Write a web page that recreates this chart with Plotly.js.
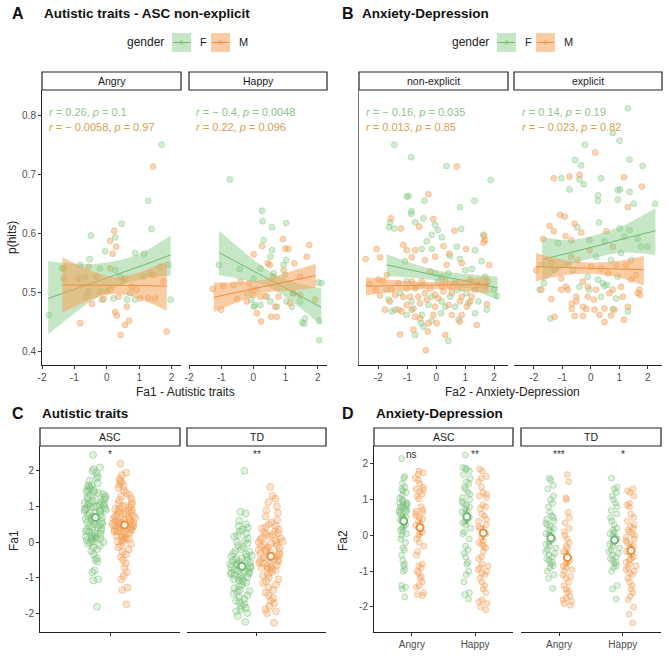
<!DOCTYPE html>
<html><head><meta charset="utf-8">
<script src="https://cdn.plot.ly/plotly-3.0.1.min.js"></script>
<style>html,body{margin:0;padding:0;background:#fff}#chart{width:669px;height:669px}</style>
</head><body><div id="chart"></div>
<script>
// ---------- DATA ----------
const groups = ['F','M'];
// Panel A - Angry
const aAngryFx = [1.69,1.28,1.38,0.46,-0.49,0.26,-0.05,-0.53,1.15,0.87,-1.79,-1.38,1.97,-0.15,0.21,0.62,0.87,1.64,1.90,1.33,1.13,0.41,0.26,-0.67,-0.82,-0.21,0.51,0.72,0.0,-0.56];
const aAngryFy = [0.751,0.656,0.608,0.617,0.597,0.594,0.570,0.557,0.566,0.567,0.462,0.541,0.488,0.488,0.490,0.488,0.488,0.544,0.547,0.533,0.527,0.527,0.538,0.527,0.547,0.541,0.519,0.499,0.502,0.502];
const aAngryMx = [1.43,0.23,0.10,0.29,0.18,-0.82,0.43,0.56,0.69,0.26,0.31,1.85,-0.46,-0.10,0.36,0.62,1.03,1.28,1.49,1.74,1.44,0.92,0.77,0.56,-0.31,-0.87,-1.33,-1.33,-0.56,0.10,0.10,-0.21,-0.64];
const aAngryMy = [0.714,0.605,0.588,0.578,0.566,0.448,0.428,0.445,0.452,0.467,0.461,0.434,0.481,0.489,0.493,0.476,0.490,0.490,0.490,0.519,0.530,0.505,0.510,0.524,0.527,0.524,0.541,0.524,0.544,0.541,0.505,0.502,0.493];
// Panel A - Happy
const aHappyFx = [-0.73,0.27,0.29,0.58,1.02,-0.42,-1.07,0.32,0.58,0.53,0.94,1.02,0.22,0.01,0.11,-0.07,0.01,0.22,0.42,0.53,0.73,1.04,1.20,1.25,1.51,1.58,1.61,2.04,2.05,2.02,2.12,0.05,0.63,0.99,1.45,-0.20];
const aHappyFy = [0.692,0.639,0.621,0.611,0.618,0.540,0.547,0.589,0.572,0.561,0.547,0.555,0.541,0.524,0.507,0.488,0.476,0.479,0.493,0.485,0.476,0.485,0.476,0.499,0.449,0.447,0.456,0.452,0.419,0.517,0.516,0.479,0.533,0.530,0.485,0.499];
const aHappyMx = [0.92,0.99,1.09,1.74,1.66,0.01,0.27,0.45,0.51,1.27,0.94,0.61,-0.61,-0.40,-0.14,-0.94,-1.26,-1.00,-0.51,-0.20,-0.04,0.11,0.24,0.55,0.73,0.68,0.37,0.78,1.14,1.23,1.45,1.92,0.22,0.01,1.45];
const aHappyMy = [0.591,0.575,0.574,0.581,0.561,0.565,0.579,0.550,0.547,0.550,0.538,0.527,0.513,0.519,0.516,0.511,0.506,0.471,0.489,0.485,0.505,0.465,0.451,0.459,0.459,0.476,0.494,0.493,0.482,0.499,0.496,0.488,0.493,0.496,0.527];
// Panel B - non-explicit
const bNonFx = [-1.45,-0.87,0.36,1.88,-1.02,-0.96,-0.41,1.32,0.82,-0.85,-0.87,-1.60,-1.63,-1.45,-0.73,-0.44,-0.04,0.05,0.86,-0.16,0.19,1.63,-0.33,-0.50,-0.16,0.71,1.34,1.57,1.23,0.82,-1.08,0.48,-1.71,-1.02,-0.67,-0.04,0.42,1.0,1.69,1.80,2.09,1.98,1.05,0.48,-0.16,-0.85,-1.65,-1.54,-0.79,-0.27,0.19,0.65,1.11,1.46,1.75,1.34,0.77,0.17,-0.50,-1.02,-1.42,-0.44,-0.16,-0.73,0.42,-0.52,-0.44,0.71,0.07,-1.25,0.31,0.88];
const bNonFy = [0.751,0.730,0.715,0.691,0.663,0.664,0.656,0.656,0.645,0.638,0.634,0.619,0.611,0.609,0.619,0.626,0.615,0.606,0.608,0.598,0.594,0.598,0.587,0.574,0.574,0.578,0.572,0.553,0.540,0.557,0.553,0.562,0.505,0.519,0.510,0.533,0.533,0.538,0.527,0.519,0.494,0.505,0.499,0.493,0.493,0.485,0.488,0.468,0.473,0.479,0.485,0.476,0.482,0.485,0.471,0.465,0.454,0.465,0.462,0.462,0.471,0.442,0.452,0.428,0.418,0.448,0.513,0.505,0.519,0.499,0.476,0.507];
const bNonMx = [0.71,-0.27,-1.56,-1.22,-0.10,-0.59,0.63,1.65,1.69,1.63,-2.06,-2.44,-1.94,-1.14,-1.02,-0.73,0.25,1.03,1.83,0.44,-0.04,-0.39,-0.85,0.88,-1.71,-2.0,-1.83,-1.54,-1.31,-0.85,-1.02,-0.50,-0.21,0.19,0.36,0.65,1.17,1.46,1.34,0.88,0.25,0.07,-0.39,-0.62,-1.14,-1.42,-1.77,-1.31,-1.02,-0.56,-0.04,0.42,0.82,1.17,0.88,0.54,-0.10,-0.73,-1.19,-0.85,0.02,-0.27,-0.56,0.82,1.40,-0.79,-1.25,0.31,-0.36,-0.29,0.19,-0.21,0.48,0.31,-0.73,-1.60,-0.04,0.54,-0.33,1.05,1.23,-0.91,-2.30,-2.10,-1.95,1.70,1.75];
const bNonMy = [0.714,0.667,0.626,0.609,0.625,0.612,0.605,0.596,0.589,0.585,0.574,0.557,0.560,0.581,0.572,0.572,0.579,0.574,0.547,0.566,0.561,0.555,0.560,0.550,0.530,0.522,0.520,0.505,0.516,0.519,0.507,0.519,0.536,0.527,0.547,0.516,0.522,0.513,0.505,0.493,0.502,0.490,0.499,0.493,0.493,0.496,0.471,0.471,0.479,0.482,0.476,0.479,0.485,0.485,0.462,0.462,0.462,0.459,0.468,0.471,0.448,0.448,0.456,0.451,0.445,0.437,0.429,0.428,0.402,0.434,0.510,0.507,0.510,0.519,0.507,0.485,0.496,0.499,0.488,0.476,0.493,0.493,0.515,0.505,0.495,0.510,0.480];
// Panel B - explicit
const bExpFx = [1.30,0.77,1.01,-0.20,-0.55,-0.34,1.36,1.82,-1.04,-0.40,0.36,-0.75,-0.25,0.25,0.95,1.03,1.36,0.25,0.95,1.50,2.26,-0.48,0.28,1.01,1.36,-1.16,-0.05,0.48,1.18,1.65,2.0,-1.65,-1.27,-0.63,-0.11,0.19,0.42,0.71,1.06,1.42,1.77,0.57,0.48,-0.05,-1.74,-0.81,0.36,0.89,1.30,0.77,-1.42,-1.80,0.25,-0.40,0.95];
const bExpFy = [0.813,0.771,0.758,0.751,0.725,0.716,0.726,0.715,0.694,0.692,0.694,0.675,0.684,0.665,0.674,0.675,0.671,0.656,0.658,0.651,0.651,0.611,0.619,0.609,0.606,0.584,0.589,0.587,0.595,0.591,0.578,0.516,0.538,0.538,0.527,0.561,0.516,0.555,0.567,0.555,0.578,0.513,0.511,0.505,0.547,0.547,0.493,0.490,0.468,0.472,0.456,0.505,0.522,0.510,0.527];
const bExpMx = [0.15,-1.30,-0.75,-0.40,1.16,1.79,1.30,-1.08,-0.92,-1.45,-1.30,-0.57,-0.34,0.54,-0.89,-1.68,-0.69,0.77,-0.05,-1.92,-1.74,-1.39,-1.04,-0.87,-0.46,-0.28,0.01,0.36,0.60,0.89,1.24,1.59,1.71,1.65,-0.51,-1.04,0.19,0.77,1.06,-0.69,-1.39,-0.51,-0.11,-0.28,-0.67,-0.67,0.11,0.13,-0.16,0.65,1.12,1.30,0.83,0.48,-0.57,-0.28,0.30,0.71,1.16,-1.27,0.48,1.73,-0.81,-0.11,1.42];
const bExpMy = [0.738,0.694,0.697,0.700,0.696,0.680,0.645,0.632,0.629,0.613,0.604,0.617,0.602,0.604,0.596,0.591,0.589,0.578,0.572,0.538,0.505,0.551,0.524,0.510,0.555,0.519,0.544,0.541,0.533,0.547,0.547,0.530,0.505,0.499,0.493,0.505,0.505,0.505,0.510,0.561,0.489,0.485,0.493,0.476,0.481,0.472,0.488,0.471,0.472,0.499,0.493,0.476,0.471,0.473,0.460,0.460,0.462,0.461,0.454,0.459,0.450,0.496,0.505,0.510,0.522];
// Regression fits and confidence bands
const fitAAngryFx = [-1.81,-0.5,0.5,1.2,1.97], fitAAngryFy=[0.490,0.515,0.535,0.548,0.564], fitAAngryFlo=[0.429,0.485,0.514,0.524,0.529], fitAAngryFhi=[0.553,0.548,0.556,0.571,0.597];
const fitAAngryMx = [-1.37,-0.4,0.3,1.0,1.85], fitAAngryMy=[0.513,0.513,0.512,0.512,0.511], fitAAngryMlo=[0.466,0.490,0.498,0.490,0.469], fitAAngryMhi=[0.560,0.535,0.526,0.534,0.553];
const fitAHappyFx = [-1.07,0.0,0.6,1.2,2.11], fitAHappyFy=[0.568,0.537,0.519,0.502,0.475], fitAHappyFlo=[0.530,0.518,0.506,0.485,0.445], fitAHappyFhi=[0.605,0.556,0.533,0.519,0.507];
const fitAHappyMx = [-1.23,-0.3,0.4,1.1,1.94], fitAHappyMy=[0.492,0.503,0.511,0.519,0.529], fitAHappyMlo=[0.467,0.488,0.500,0.503,0.508], fitAHappyMhi=[0.517,0.518,0.523,0.535,0.549];
const fitBNonFx = [-1.71,-0.8,0.0,0.9,2.12], fitBNonFy=[0.547,0.537,0.529,0.521,0.508], fitBNonFlo=[0.528,0.525,0.520,0.510,0.488], fitBNonFhi=[0.565,0.549,0.538,0.532,0.527];
const fitBNonMx = [-2.43,-1.2,-0.2,0.8,1.82], fitBNonMy=[0.511,0.512,0.512,0.513,0.514], fitBNonMlo=[0.495,0.503,0.506,0.504,0.499], fitBNonMhi=[0.526,0.520,0.518,0.521,0.528];
const fitBExpFx = [-1.71,-0.7,0.2,1.2,2.27], fitBExpFy=[0.556,0.568,0.579,0.592,0.605], fitBExpFlo=[0.519,0.548,0.560,0.568,0.564], fitBExpFhi=[0.594,0.589,0.598,0.615,0.643];
const fitBExpMx = [-1.93,-0.9,0.0,0.9,1.86], fitBExpMy=[0.544,0.543,0.541,0.540,0.539], fitBExpMlo=[0.519,0.530,0.532,0.527,0.512], fitBExpMhi=[0.567,0.555,0.551,0.553,0.562];
const corrA = [['0.26','0.1'],['− 0.0058','0.97'],['− 0.4','0.0048'],['0.22','0.096']];
const corrB = [['− 0.16','0.035'],['0.013','0.85'],['0.14','0.19'],['− 0.023','0.82']];
// Panel C - Fa1 by group
const cAscF = [2.45,2.1,2.05,2.0,1.95,1.85,1.8,1.72,1.65,1.6,1.58,1.55,1.5,1.48,1.45,1.42,1.4,1.38,1.35,1.32,1.3,1.28,1.25,1.22,1.2,1.18,1.15,1.12,1.1,1.1,1.08,1.05,1.05,1.02,1.0,1.0,0.98,0.95,0.95,0.92,0.9,0.9,0.88,0.85,0.82,0.8,0.78,0.75,0.72,0.7,0.68,0.65,0.62,0.6,0.58,0.55,0.52,0.5,0.48,0.45,0.42,0.4,0.38,0.35,0.32,0.3,0.28,0.25,0.22,0.2,0.18,0.15,0.15,0.12,0.1,0.1,0.08,0.05,0.02,0.0,-0.02,-0.05,-0.1,-0.15,-0.2,-0.25,-0.35,-0.45,-0.5,-0.55,-0.8,-0.85,-1.05,-1.08,-1.82];
const cAscM = [2.2,1.95,1.88,1.78,1.72,1.68,1.62,1.58,1.52,1.45,1.38,1.32,1.28,1.22,1.18,1.12,1.08,1.05,1.02,1.0,0.98,0.95,0.92,0.9,0.88,0.86,0.84,0.82,0.8,0.78,0.76,0.74,0.72,0.7,0.68,0.66,0.64,0.62,0.6,0.6,0.58,0.56,0.55,0.54,0.52,0.5,0.5,0.48,0.46,0.45,0.44,0.42,0.4,0.4,0.38,0.36,0.35,0.33,0.3,0.3,0.28,0.25,0.22,0.2,0.18,0.15,0.12,0.1,0.08,0.05,0.02,0.0,-0.05,-0.1,-0.15,-0.2,-0.28,-0.35,-0.42,-0.5,-0.6,-0.72,-0.85,-0.95,-1.05,-1.28,-1.35,-1.75];
const cTdF = [2.0,0.85,0.8,0.6,0.5,0.45,0.4,0.35,0.3,0.25,0.2,0.15,0.1,0.05,0.0,-0.05,-0.1,-0.15,-0.2,-0.25,-0.28,-0.32,-0.35,-0.38,-0.4,-0.42,-0.45,-0.48,-0.5,-0.52,-0.55,-0.58,-0.6,-0.62,-0.64,-0.66,-0.68,-0.7,-0.72,-0.74,-0.76,-0.78,-0.8,-0.82,-0.84,-0.86,-0.88,-0.9,-0.92,-0.95,-0.98,-1.0,-1.02,-1.05,-1.08,-1.1,-1.15,-1.2,-1.25,-1.3,-1.35,-1.38,-1.4,-1.45,-1.5,-1.55,-1.6,-1.65,-1.7,-1.75,-1.8,-1.85,-1.9,-1.95,-2.0,-2.08,-2.25];
const cTdM = [1.55,1.3,1.22,1.12,1.0,0.9,0.82,0.72,0.62,0.55,0.5,0.45,0.42,0.38,0.35,0.3,0.28,0.25,0.22,0.2,0.15,0.12,0.1,0.08,0.05,0.02,0.0,-0.02,-0.05,-0.08,-0.1,-0.12,-0.15,-0.18,-0.2,-0.22,-0.25,-0.28,-0.3,-0.32,-0.35,-0.38,-0.4,-0.42,-0.45,-0.48,-0.5,-0.52,-0.55,-0.58,-0.6,-0.62,-0.65,-0.68,-0.7,-0.72,-0.75,-0.78,-0.8,-0.85,-0.9,-0.95,-1.0,-1.05,-1.1,-1.15,-1.2,-1.28,-1.35,-1.42,-1.5,-1.58,-1.65,-1.72,-1.8,-1.9,-1.95,-2.0,-2.27];
const cMeans = {ascF:0.69, ascM:0.48, tdF:-0.68, tdM:-0.40};
const cErr = {ascF:0.08, ascM:0.07, tdF:0.07, tdM:0.07};
const cSig = ['*','**'];
// Panel D - Fa2 by group and emotion
const emotions = ['Angry','Happy'];
const dAscAngryF = [2.15,1.65,1.6,1.45,1.35,1.3,1.25,1.2,1.12,1.05,1.0,0.95,0.92,0.9,0.88,0.85,0.82,0.8,0.78,0.75,0.72,0.7,0.68,0.65,0.6,0.55,0.52,0.5,0.45,0.42,0.4,0.35,0.3,0.25,0.2,0.15,0.1,0.05,0.0,-0.1,-0.2,-0.35,-0.4,-0.55,-0.7,-0.8,-0.85,-0.95,-1.0,-1.4,-1.45,-1.5,-1.72];
const dAscAngryM = [1.8,1.75,1.72,1.6,1.55,1.45,1.35,1.3,1.28,1.22,1.15,1.1,1.02,0.8,0.72,0.68,0.65,0.6,0.55,0.5,0.45,0.4,0.32,0.28,0.22,0.18,0.1,0.05,0.0,-0.1,-0.2,-0.3,-0.45,-0.55,-0.8,-0.85,-0.9,-1.0,-1.05,-1.15,-1.2,-1.3,-1.4,-1.45,-1.6,-1.65,-1.68];
const dAscHappyF = [2.25,1.9,1.88,1.85,1.8,1.7,1.6,1.5,1.45,1.35,1.3,1.2,1.15,1.05,1.0,0.95,0.9,0.85,0.8,0.75,0.7,0.65,0.6,0.55,0.5,0.45,0.4,0.35,0.3,0.2,0.1,0.05,-0.1,-0.3,-0.4,-0.5,-0.6,-0.75,-0.8,-1.0,-1.1,-1.3,-1.6,-1.65,-1.78];
const dAscHappyM = [1.85,1.8,1.65,1.6,1.5,1.35,1.2,1.15,1.1,1.05,0.85,0.8,0.75,0.6,0.55,0.45,0.4,0.3,0.25,0.2,0.1,0.05,-0.05,-0.15,-0.2,-0.25,-0.3,-0.35,-0.45,-0.6,-0.65,-0.8,-0.85,-0.9,-0.95,-1.0,-1.05,-1.1,-1.2,-1.3,-1.4,-1.5,-1.6,-1.8,-1.85,-1.9,-2.0,-2.08];
const dTdAngryF = [1.6,1.55,1.4,1.3,1.1,1.0,0.9,0.8,0.65,0.55,0.5,0.45,0.4,0.35,0.3,0.25,0.2,0.15,0.1,0.05,0.0,-0.05,-0.1,-0.15,-0.2,-0.25,-0.3,-0.35,-0.4,-0.45,-0.5,-0.55,-0.6,-0.65,-0.7,-0.75,-0.8,-0.85,-0.9,-1.0,-1.1,-1.2,-1.48];
const dTdAngryM = [1.7,1.5,1.05,1.0,0.65,0.5,0.35,0.2,0.1,0.0,-0.1,-0.2,-0.3,-0.35,-0.45,-0.5,-0.6,-0.7,-0.75,-0.8,-0.85,-0.9,-0.95,-1.0,-1.1,-1.15,-1.2,-1.3,-1.4,-1.5,-1.55,-1.6,-1.7,-1.75,-1.8,-1.85,-1.9,-1.95];
const dTdHappyF = [1.6,1.35,1.3,1.2,1.1,1.0,0.9,0.8,0.7,0.6,0.5,0.4,0.3,0.2,0.15,0.1,0.05,0.0,-0.05,-0.1,-0.15,-0.2,-0.25,-0.3,-0.35,-0.4,-0.45,-0.5,-0.55,-0.6,-0.65,-0.7,-0.75,-0.8,-0.85,-0.9,-1.0,-1.4,-1.5,-1.78];
const dTdHappyM = [1.3,1.25,1.2,1.1,0.9,0.85,0.8,0.6,0.5,0.4,0.3,0.25,0.2,0.15,0.1,0.05,0.0,-0.05,-0.1,-0.15,-0.2,-0.25,-0.3,-0.35,-0.4,-0.45,-0.5,-0.55,-0.6,-0.65,-0.7,-0.75,-0.8,-0.85,-0.9,-0.95,-1.0,-1.05,-1.1,-1.2,-1.3,-1.4,-1.5,-1.6,-1.7,-1.8,-2.0,-2.2,-2.45];
const dMeansF = {asc:[0.40,0.52], td:[-0.07,-0.13]};
const dMeansM = {asc:[0.22,0.07], td:[-0.62,-0.42]};
const dErrF = {asc:[0.21,0.22], td:[0.16,0.15]};
const dErrM = {asc:[0.22,0.21], td:[0.22,0.19]};
const dSig = {asc:['ns','**'], td:['***','*']};

// ---------- STYLE ----------
const W = 669;
const FONT = 'Liberation Sans, Arial, sans-serif';
const ptFill = {F:'rgba(127,201,127,0.36)', M:'rgba(245,162,90,0.45)'};
const ptLine = {F:'rgba(110,185,110,0.55)', M:'rgba(235,145,70,0.6)'};
const swFill = {F:'rgba(127,201,127,0.25)', M:'rgba(245,162,90,0.3)'};
const swLine = {F:'rgba(110,185,110,0.5)', M:'rgba(240,150,75,0.5)'};
const bandFill = {F:'rgba(127,201,127,0.45)', M:'rgba(245,162,90,0.55)'};
const lineCol = {F:'#74b874', M:'#ee8f3e'};
const txtCol = {F:'#8fc28f', M:'#d6a052'};
const px = v => v / W;
const py = v => 1 - v / W;

const traces = [];
function pts(x, y, g, ax) {
  traces.push({type:'scatter', mode:'markers', x:x, y:y, xaxis:'x'+ax, yaxis:'y'+ax, showlegend:false, hoverinfo:'skip',
    marker:{size:6, color:ptFill[g], line:{color:ptLine[g], width:0.6}}});
}
function fit(fx, fy, lo, hi, g, ax) {
  traces.push({type:'scatter', mode:'lines', x:fx, y:lo, line:{width:0, shape:'spline', smoothing:0.8, color:'rgba(0,0,0,0)'},
    xaxis:'x'+ax, yaxis:'y'+ax, showlegend:false, hoverinfo:'skip'});
  traces.push({type:'scatter', mode:'lines', x:fx, y:hi, fill:'tonexty', fillcolor:bandFill[g], line:{width:0, shape:'spline', smoothing:0.8, color:'rgba(0,0,0,0)'},
    xaxis:'x'+ax, yaxis:'y'+ax, showlegend:false, hoverinfo:'skip'});
  traces.push({type:'scatter', mode:'lines', x:fx, y:fy, line:{color:lineCol[g], width:1}, xaxis:'x'+ax, yaxis:'y'+ax, showlegend:false, hoverinfo:'skip'});
}
// A
pts(aAngryFx, aAngryFy, 'F', 1); pts(aAngryMx, aAngryMy, 'M', 1);
fit(fitAAngryFx, fitAAngryFy, fitAAngryFlo, fitAAngryFhi, 'F', 1);
fit(fitAAngryMx, fitAAngryMy, fitAAngryMlo, fitAAngryMhi, 'M', 1);
pts(aHappyFx, aHappyFy, 'F', 2); pts(aHappyMx, aHappyMy, 'M', 2);
fit(fitAHappyFx, fitAHappyFy, fitAHappyFlo, fitAHappyFhi, 'F', 2);
fit(fitAHappyMx, fitAHappyMy, fitAHappyMlo, fitAHappyMhi, 'M', 2);
// B
pts(bNonFx, bNonFy, 'F', 3); pts(bNonMx, bNonMy, 'M', 3);
fit(fitBNonFx, fitBNonFy, fitBNonFlo, fitBNonFhi, 'F', 3);
fit(fitBNonMx, fitBNonMy, fitBNonMlo, fitBNonMhi, 'M', 3);
pts(bExpFx, bExpFy, 'F', 4); pts(bExpMx, bExpMy, 'M', 4);
fit(fitBExpFx, fitBExpFy, fitBExpFlo, fitBExpFhi, 'F', 4);
fit(fitBExpMx, fitBExpMy, fitBExpMlo, fitBExpMhi, 'M', 4);

function swarm(y, x0, g, ax, w, sz) {
  traces.push({type:'box', y:y, x0:x0, width:w, xaxis:'x'+ax, yaxis:'y'+ax, boxpoints:'all', jitter:1, pointpos:0,
    fillcolor:'rgba(0,0,0,0)', line:{color:'rgba(0,0,0,0)', width:1}, whiskerwidth:0, showlegend:false, hoverinfo:'skip',
    marker:{size:sz, color:swFill[g], line:{color:swLine[g], width:0.8}}});
}
function meanPt(x, y, e, g, ax) {
  traces.push({type:'scatter', mode:'markers', x:x, y:y, xaxis:'x'+ax, yaxis:'y'+ax, showlegend:false, hoverinfo:'skip',
    error_y:{type:'data', array:e, color:lineCol[g], thickness:1.6, width:0},
    marker:{size:7, color:'white', line:{color:lineCol[g], width:2}}});
}
const OFF_C = 0.125, OFF_D = 0.13;
// C
swarm(cAscF, 1-OFF_C, 'F', 5, 0.22, 7); swarm(cAscM, 1+OFF_C, 'M', 5, 0.22, 7);
swarm(cTdF, 1-OFF_C, 'F', 6, 0.22, 7); swarm(cTdM, 1+OFF_C, 'M', 6, 0.22, 7);
meanPt([1-OFF_C],[cMeans.ascF],[cErr.ascF],'F',5); meanPt([1+OFF_C],[cMeans.ascM],[cErr.ascM],'M',5);
meanPt([1-OFF_C],[cMeans.tdF],[cErr.tdF],'F',6); meanPt([1+OFF_C],[cMeans.tdM],[cErr.tdM],'M',6);
// D
swarm(dAscAngryF, 1-OFF_D, 'F', 7, 0.18, 6); swarm(dAscAngryM, 1+OFF_D, 'M', 7, 0.18, 6);
swarm(dAscHappyF, 2-OFF_D, 'F', 7, 0.18, 6); swarm(dAscHappyM, 2+OFF_D, 'M', 7, 0.18, 6);
swarm(dTdAngryF, 1-OFF_D, 'F', 8, 0.18, 6); swarm(dTdAngryM, 1+OFF_D, 'M', 8, 0.18, 6);
swarm(dTdHappyF, 2-OFF_D, 'F', 8, 0.18, 6); swarm(dTdHappyM, 2+OFF_D, 'M', 8, 0.18, 6);
meanPt([1-OFF_D,2-OFF_D], dMeansF.asc, dErrF.asc, 'F', 7); meanPt([1+OFF_D,2+OFF_D], dMeansM.asc, dErrM.asc, 'M', 7);
meanPt([1-OFF_D,2-OFF_D], dMeansF.td, dErrF.td, 'F', 8); meanPt([1+OFF_D,2+OFF_D], dMeansM.td, dErrM.td, 'M', 8);

// ---------- LAYOUT ----------
const tickFont = {family:FONT, size:10, color:'#4d4d4d'};
function xAx(d, range, tv, tt) {
  return {domain:[px(d[0]), px(d[1])], range:range, type:'linear', tickvals:tv, ticktext:tt, ticks:'outside', ticklen:3, tickcolor:'#333',
    showline:true, linecolor:'#222', linewidth:1, showgrid:false, zeroline:false, tickfont:tickFont, fixedrange:true};
}
function yAx(d, range, tv, show, anchor, lineOnly, lc) {
  const o = {domain:[py(d[1]), py(d[0])], range:range, type:'linear', anchor:anchor, showgrid:false, zeroline:false, fixedrange:true, tickfont:tickFont};
  if (show) { Object.assign(o, {tickvals:tv, ticktext:tv.map(v=>String(v)), ticks:'outside', ticklen:3, tickcolor:'#333', showline:true, linecolor:'#222', linewidth:1}); }
  else { Object.assign(o, {showticklabels:false, ticks:'', showline:!!lineOnly, linecolor:lc||'#222', linewidth:lineOnly?1.5:1}); }
  return o;
}
const abY = [90, 365], cdY = [446, 632];
const rangeAB = [0.377, 0.844];
const xtA = [-2,-1,0,1,2], xtAtxt = ['-2','-1','0','1','2'];
const layout = {
  width:669, height:669, margin:{l:0,r:0,t:0,b:0}, paper_bgcolor:'white', plot_bgcolor:'rgba(0,0,0,0)', showlegend:false,
  font:{family:FONT, color:'#222'},
  xaxis: xAx([42,181], [-2.0,2.29], xtA, xtAtxt),
  xaxis2: xAx([189,327], [-2.0,2.29], xtA, xtAtxt),
  xaxis3: xAx([359,508], [-2.67,2.48], xtA, xtAtxt),
  xaxis4: xAx([514,662], [-2.70,2.50], xtA, xtAtxt),
  xaxis5: xAx([40,180], [0.4,1.6], [1], ['']),
  xaxis6: xAx([187,326], [0.4,1.6], [1], ['']),
  xaxis7: xAx([374,513], [0.4,2.6], [1,2], emotions),
  xaxis8: xAx([521,661], [0.4,2.6], [1,2], emotions),
  yaxis: yAx(abY, rangeAB, [0.4,0.5,0.6,0.7,0.8], true, 'x'),
  yaxis2: yAx(abY, rangeAB, [], false, 'x2'),
  yaxis3: yAx(abY, rangeAB, [], false, 'x3', true, '#777'),
  yaxis4: yAx(abY, rangeAB, [], false, 'x4'),
  yaxis5: yAx(cdY, [-2.53,2.70], [-2,-1,0,1,2], true, 'x5'),
  yaxis6: yAx(cdY, [-2.53,2.70], [], false, 'x6'),
  yaxis7: yAx(cdY, [-2.7,2.5], [-2,-1,0,1,2], true, 'x7'),
  yaxis8: yAx(cdY, [-2.7,2.5], [], false, 'x8'),
  shapes: [], annotations: []
};
layout.yaxis.ticktext = ['0.4','0.5','0.6','0.7','0.8'];
['xaxis','xaxis2','xaxis3','xaxis4'].forEach((k,i)=>{ layout[k].anchor = i===0?'y':'y'+(i+1); });
['xaxis5','xaxis6','xaxis7','xaxis8'].forEach((k,i)=>{ layout[k].anchor = 'y'+(i+5); });

const S = layout.shapes, A = layout.annotations;
function text(x, y, t, o) {
  A.push(Object.assign({xref:'paper', yref:'paper', x:px(x), y:py(y), text:t, showarrow:false, xanchor:'left', yanchor:'middle',
    font:{family:FONT, size:11, color:'#222'}}, o||{}));
}
function strip(x0, x1, y0, y1, label) {
  S.push({type:'rect', xref:'paper', yref:'paper', x0:px(x0), x1:px(x1), y0:py(y1), y1:py(y0), line:{color:'#222', width:1.2}, fillcolor:'white'});
  text((x0+x1)/2, (y0+y1)/2, label, {xanchor:'center', font:{family:FONT, size:10.5, color:'#1a1a1a'}});
}
const bold = (s, sz) => ({font:{family:FONT, size:sz, color:'#111'}, text:'<b>'+s+'</b>'});
text(10, 13, '', bold('A', 16)); text(42, 13, '', bold('Autistic traits - ASC non-explicit', 13.5));
text(340, 13, '', bold('B', 16)); text(360, 13, '', bold('Anxiety-Depression', 13.5));
text(10, 413, '', bold('C', 16)); text(40, 413, '', bold('Autistic traits', 13.5));
text(340, 413, '', bold('D', 16)); text(374, 413, '', bold('Anxiety-Depression', 13.5));
function legend(xg, xf, xm) {
  text(xg, 42, 'gender', {font:{family:FONT, size:12, color:'#222'}});
  [['F', xf, 'F'], ['M', xm, 'M']].forEach(([g, x0, lab]) => {
    S.push({type:'rect', xref:'paper', yref:'paper', x0:px(x0), x1:px(x0+19), y0:py(52), y1:py(33), line:{width:0}, fillcolor:bandFill[g]});
    S.push({type:'line', xref:'paper', yref:'paper', x0:px(x0+1), x1:px(x0+18), y0:py(42.5), y1:py(42.5), line:{color:lineCol[g], width:1}});
    S.push({type:'circle', xref:'paper', yref:'paper', x0:px(x0+7.5), x1:px(x0+11.5), y0:py(44.5), y1:py(40.5), line:{color:ptLine[g], width:0.6}, fillcolor:ptFill[g]});
    text(x0+26, 42, lab, {font:{family:FONT, size:11, color:'#222'}});
  });
}
legend(125, 172, 211);
legend(450, 497, 536);
strip(42, 181, 72, 90, 'Angry'); strip(189, 327, 72, 90, 'Happy');
strip(359, 508, 72, 90, 'non-explicit'); strip(514, 662, 72, 90, 'explicit');
strip(40, 180, 428, 446, 'ASC'); strip(187, 326, 428, 446, 'TD');
strip(374, 513, 428, 446, 'ASC'); strip(521, 661, 428, 446, 'TD');
function corr(x, pair, g, y) {
  text(x, y, '<i>r</i> = ' + pair[0] + ', <i>p</i> = ' + pair[1], {font:{family:FONT, size:11, color:txtCol[g]}});
}
corr(47, corrA[0], 'F', 112); corr(47, corrA[1], 'M', 127);
corr(194, corrA[2], 'F', 112); corr(194, corrA[3], 'M', 127);
corr(364, corrB[0], 'F', 112); corr(364, corrB[1], 'M', 127);
corr(520, corrB[2], 'F', 112); corr(520, corrB[3], 'M', 127);
text(185, 392, 'Fa1 - Autistic traits', {xanchor:'center', font:{family:FONT, size:12, color:'#222'}});
text(512, 392, 'Fa2 - Anxiety-Depression', {xanchor:'center', font:{family:FONT, size:12, color:'#222'}});
text(12, 238, 'p(hits)', {xanchor:'center', textangle:-90, font:{family:FONT, size:12, color:'#222'}});
text(14, 541, 'Fa1', {xanchor:'center', textangle:-90, font:{family:FONT, size:12, color:'#222'}});
text(343, 541, 'Fa2', {xanchor:'center', textangle:-90, font:{family:FONT, size:12, color:'#222'}});
const sigFont = {family:FONT, size:10, color:'#333'};
const sigY = py(454);
A.push({xref:'x5', yref:'paper', x:1, y:sigY, yanchor:'middle', text:cSig[0], showarrow:false, font:sigFont});
A.push({xref:'x6', yref:'paper', x:1, y:sigY, yanchor:'middle', text:cSig[1], showarrow:false, font:sigFont});
emotions.forEach((e, i) => {
  A.push({xref:'x7', yref:'paper', x:i+1, y:sigY, yanchor:'middle', text:dSig.asc[i], showarrow:false, font:sigFont});
  A.push({xref:'x8', yref:'paper', x:i+1, y:sigY, yanchor:'middle', text:dSig.td[i], showarrow:false, font:sigFont});
});

Plotly.newPlot('chart', traces, layout, {staticPlot:true, displayModeBar:false});
</script></body></html>
